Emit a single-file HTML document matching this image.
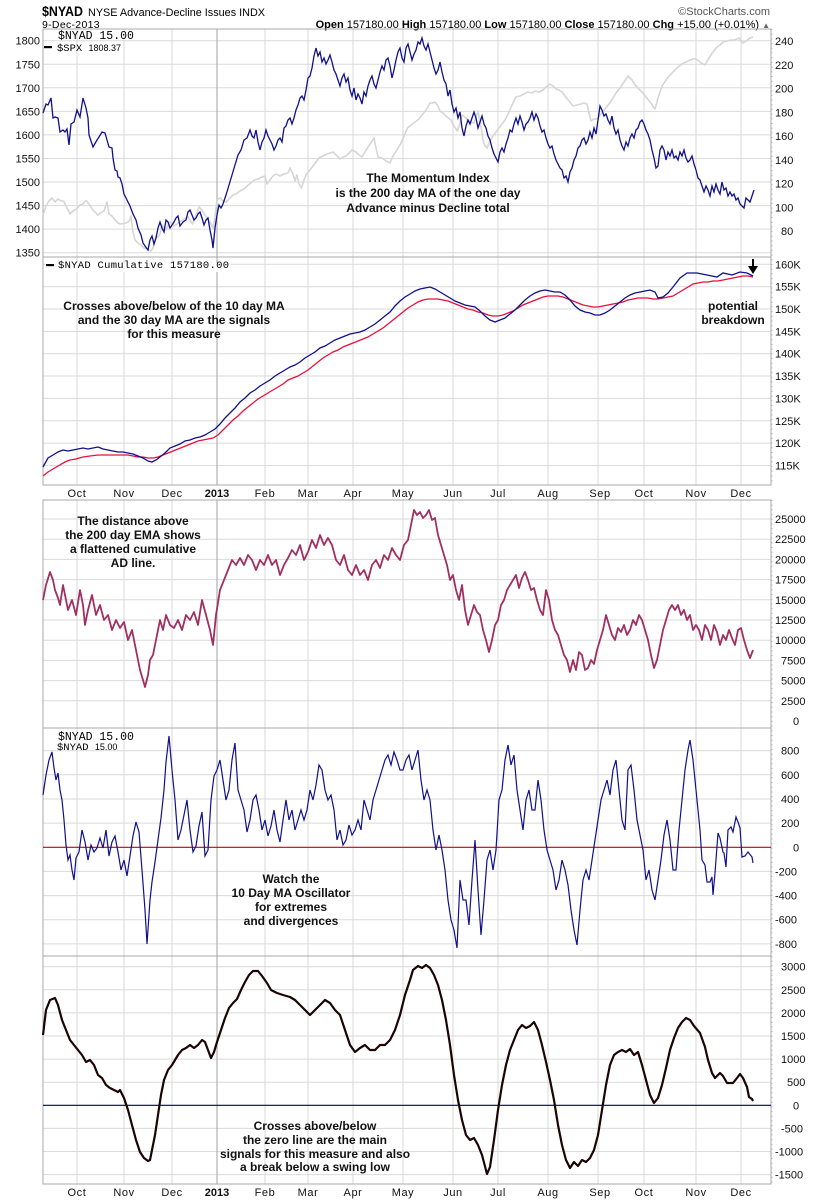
<!DOCTYPE html>
<html><head><meta charset="utf-8"><style>
html,body{margin:0;padding:0;background:#fff;}
svg{display:block;font-family:"Liberation Sans",Arial,sans-serif;}
.ax{font-size:11px;fill:#111;}
.an{font-size:12px;font-weight:bold;fill:#111;text-anchor:middle;}
.mono{font-family:"Liberation Mono",monospace;fill:#000;}
.mo{font-size:11px;fill:#111;text-anchor:middle;letter-spacing:0.6px;}
</style></head><body>
<svg width="820" height="1200" viewBox="0 0 820 1200" xmlns="http://www.w3.org/2000/svg">
<rect width="820" height="1200" fill="#fff"/>

<!-- header -->
<text x="42" y="16" font-size="14" font-weight="bold" fill="#000" textLength="41" lengthAdjust="spacingAndGlyphs">$NYAD</text>
<text x="88" y="16" font-size="11" fill="#000" textLength="177" lengthAdjust="spacingAndGlyphs">NYSE Advance-Decline Issues INDX</text>
<text x="42" y="28" font-size="10.5" fill="#000" letter-spacing="0.3">9-Dec-2013</text>
<text x="770" y="15" font-size="11" fill="#555" text-anchor="end">©StockCharts.com</text>
<text x="770" y="28" font-size="11" fill="#000" text-anchor="end"><tspan font-weight="bold">Open</tspan> 157180.00 <tspan font-weight="bold">High</tspan> 157180.00 <tspan font-weight="bold">Low</tspan> 157180.00 <tspan font-weight="bold">Close</tspan> 157180.00 <tspan font-weight="bold">Chg</tspan> +15.00 (+0.01%) <tspan font-size="8" fill="#666">▲</tspan></text>

<!-- vertical gridlines -->
<g stroke="#dadada" stroke-width="1">
<path d="M77,29V257M124,29V257M172,29V257M265,29V257M308,29V257M353,29V257M403,29V257M453,29V257M498,29V257M548,29V257M598,29V257M644,29V257M696,29V257M741,29V257"/>
<path d="M77,257V485M124,257V485M172,257V485M265,257V485M308,257V485M353,257V485M403,257V485M453,257V485M498,257V485M548,257V485M598,257V485M644,257V485M696,257V485M741,257V485"/>
<path d="M77,500V1184M124,500V1184M172,500V1184M265,500V1184M308,500V1184M353,500V1184M403,500V1184M453,500V1184M498,500V1184M548,500V1184M598,500V1184M644,500V1184M696,500V1184M741,500V1184"/>
<!-- horizontal -->
<path d="M43,40.7H771M43,64.3H771M43,87.8H771M43,111.4H771M43,134.9H771M43,158.5H771M43,182H771M43,205.6H771M43,229.1H771M43,252.7H771"/>
<path d="M43,264.3H771M43,286.7H771M43,309H771M43,331.4H771M43,353.7H771M43,376H771M43,398.4H771M43,420.8H771M43,443.1H771M43,465.5H771"/>
<path d="M43,519H771M43,539.2H771M43,559.4H771M43,579.6H771M43,599.8H771M43,620H771M43,640.2H771M43,660.4H771M43,680.6H771M43,700.8H771"/>
<path d="M43,750.7H771M43,774.8H771M43,799H771M43,823.1H771M43,871.4H771M43,895.6H771M43,919.7H771M43,943.9H771"/>
<path d="M43,966.7H771M43,989.8H771M43,1012.9H771M43,1036H771M43,1059.1H771M43,1082.2H771M43,1128.4H771M43,1151.5H771M43,1174.6H771"/>
</g>
<g stroke="#b0b0b0" stroke-width="1.2">
<path d="M217,29V485M217,500V1184"/>
</g>

<!-- panel borders -->
<g fill="none" stroke="#a8a8a8" stroke-width="1">
<rect x="43" y="29" width="728" height="228"/>
<rect x="43" y="257" width="728" height="228"/>
<rect x="43" y="500" width="728" height="228"/>
<rect x="43" y="728" width="728" height="228"/>
<rect x="43" y="956" width="728" height="228"/>
</g>
<!-- right minor ticks -->
<g stroke="#b8b8b8" stroke-width="1" stroke-dasharray="1,3.7">
<path d="M772,29V485M772,500V1184"/>
</g>

<!-- zero lines -->
<path d="M43,847.3H771" stroke="#c00018" stroke-width="1.2"/>
<path d="M43,1105.3H771" stroke="#000060" stroke-width="1.2"/>

<!-- PANEL 1 -->
<polyline fill="none" stroke="#d6d6d6" stroke-width="1.6" stroke-linejoin="round" points="43,215 46,206 49,201 52,198 55,202 58,199 61,201 63.5,201 66,206 68,210 70,214 73,211 75,210 77,208.5 80,205 83,204 86,200.5 89,204 93,210 95,212 97.5,215 100,213 104,211 107,202 109,214 112,216 115,220 118,223 120,224 124,223.5 126,223 129,221.5 131,216 133,232 135,240 138,243 141,245 144,248 147,249 149,250 151,251 153,248 156,236 158,237 160,234 162,225 164,228 166,230 169.5,222 172,223 174,226 177,224 181,221 184,219 188,217 190,220 192.5,224 195,218 199,207 202,210 205,215 208,219 211,224 213,228 215,217 217,200 220,198 223,201 226,202 230,198 233,195 236,194 240,191 244,189 247,186 251,183 254.5,180 258,179 262,177 265,176 267,184 270,180 273,176 276,174 280,176 284,174 288,173 290,168 293,174 295,181 297,175 299,184 301.5,188 304,180 306,175 308,172 310,170 313,166 316,162 319,158 323,156 327,154 330,153 333,152 336,155 340,159 343,157 346,156 349,153 352,150 356,152 359,155 362,157 366,150 370,144 374,138 376,148 378,157 382,158 386,161 390,163 393,156 397,150 401,143 404,136 407.5,128 411,125 415,122 419,119 422,115 426,110 430,103 433,103 435,102 438,106 440,111 443,113 447,117 451,120 454,126 457.5,131 460,123 462,115 465,117 468,121 471,122 474,123 476,117 478,111 481,126 483,141 485,146 487,148 490,141 493,136 496,132 499,128 502,124 505,120 508,114 512,105 516,97 520,96 524,94 528,92 532,93 535,91 539,92 543,90 547,86 550,84 553,86 556,89 559,90 562,92 565,96 569,101 573,106 577,105 581,104 584,103 587,104 589,113 591,121 594,119 597,119 601,114 605,109 609,104 613,98 616,93 620,88 624,82 628,76 632,80 636,86 639,89 642,92 646,97 650,102 655,109 658,98 662,86 666,80 670,75 674,71 678,67 682,64 686,62 690,60 693,59 696,59 700,62 705,65 709,58 713,52 717,47 720,45 723,42 727,41 731,40 734,40 737,39 739,38 741,41 743,43 746,41 750,38 753,37"/>
<polyline fill="none" stroke="#10108c" stroke-width="1.3" points="43,113 46,104 48,105 51,98 53,118 55,117 58,118 60,132 63,130 65,132 67,129 69,145 71,124 74,122 77,110 80,117 83,98 86,108 88,118 89,135 93,147 97,140 99,137 102,132 105,133 107,140 109,147 112,148 113,158 115,170 117,171 118,177 120,178 122,184 124,194 127,200 130,206 133,214 136,220 138,228 141,235 143,243 145,246 148,250 150,240 152,236 154,244 156,238 158,228 160,222 162,228 164,232 166,220 168,222 170,228 172,225 174,222 176,218 178,216 180,226 183,222 186,220 188,212 190,210 192,215 194,220 196,218 198,214 200,212 202,218 204,225 206,220 208,218 210,230 212,240 213,248 215,228 217,215 219,205 221,208 223,204 226,195 229,185 232,175 235,165 238,155 241,150 244,140 247,138 250,130 252,136 254,138 256,130 258,142 260,150 262,142 264,138 266,130 268,136 270,140 272,144 274,150 276,146 278,140 280,138 282,142 284,128 286,126 288,120 290,118 292,124 294,118 296,110 298,105 300,98 302,96 304,100 306,90 308,78 310,76 312,68 314,56 316,48 318,56 320,52 322,62 324,58 326,64 328,60 330,55 332,62 334,70 336,74 338,80 340,86 342,78 344,74 346,82 348,78 350,90 352,96 354,88 356,100 358,94 360,98 362,104 364,92 366,96 368,86 370,80 372,76 374,84 376,88 378,80 380,72 382,66 384,70 386,60 388,58 390,66 392,78 394,70 396,60 398,52 400,48 402,58 404,62 406,48 408,44 410,52 412,60 414,54 416,50 418,42 420,44 422,38 424,46 426,50 428,44 430,52 432,60 434,68 436,74 438,70 440,62 442,72 444,80 446,84 448,96 450,90 452,104 454,112 456,108 458,118 460,112 462,128 464,136 466,126 468,120 470,124 472,118 474,112 476,118 478,128 480,122 482,116 484,124 486,128 488,136 490,140 492,148 494,154 496,158 498,162 500,152 502,148 504,152 506,144 508,138 510,130 512,132 514,124 516,118 518,124 520,116 522,122 524,130 526,124 528,122 530,118 532,112 534,120 536,114 538,118 540,126 542,132 544,130 546,138 548,144 550,148 552,146 554,154 556,160 558,164 560,168 562,170 564,178 566,176 568,182 570,172 572,168 574,160 576,156 578,148 580,146 582,140 584,138 586,144 588,140 590,132 592,138 594,128 596,134 598,120 600,106 602,110 604,116 606,114 608,120 610,124 612,116 614,128 616,134 618,130 620,140 622,146 624,150 626,142 628,146 630,138 632,134 634,138 636,130 638,128 640,122 642,120 644,124 646,130 648,134 650,140 652,150 654,158 656,168 658,166 660,150 662,146 664,150 666,160 668,152 670,156 672,150 674,158 676,156 678,160 680,152 682,156 684,150 686,158 688,162 690,160 692,156 694,164 696,170 698,178 700,180 702,186 704,192 706,186 708,190 710,196 712,186 714,192 716,184 718,190 720,194 722,182 724,190 726,188 728,196 730,192 732,196 734,194 736,200 738,198 740,204 742,206 744,208 746,198 748,200 750,202 752,196 754,190"/>

<!-- PANEL 2 -->
<polyline fill="none" stroke="#e8103c" stroke-width="1.3" points="43,476 48,472 53,469 58,466 65,462 70,460 76,459 83,457 90,456 98,455 105,455 113,455 120,455 128,455 133,456 138,457 143,457 148,458 153,458 158,457 163,455 168,453 173,451 178,449 183,447 188,445 193,443 198,441 203,440 208,439 213,438 218,435 223,430 228,425 233,420 238,416 243,411 248,407 253,403 258,399 263,396 268,393 273,390 278,387 283,384 288,380 293,378 298,376 303,373 308,370 313,366 318,362 323,358 328,355 333,352 338,350 343,347 348,345 353,343 358,341 363,339 368,337 373,334 378,331 383,328 388,324 393,320 398,316 403,312 408,308 413,305 418,302 423,300 428,299 433,299 438,299 443,300 448,301 453,303 458,305 463,307 468,309 473,310 478,312 483,313 488,315 493,316 498,316 503,315 508,313 513,311 518,308 523,305 528,303 533,301 538,299 543,297 548,296 553,296 558,296 563,297 568,299 573,301 578,303 583,305 588,306 593,307 598,307 603,306 608,305 613,304 618,303 623,302 628,300 633,299 638,298 643,298 648,298 653,299 658,299 663,298 668,297 673,296 678,293 683,290 688,287 693,284 698,283 703,282 708,282 713,281 718,281 723,280 728,279 733,278 738,277 743,276 748,276 753,277"/>
<polyline fill="none" stroke="#10108c" stroke-width="1.3" points="43,467 48,458 53,455 58,452 63,450 68,451 73,450 78,449 83,448 88,449 93,448 98,447 103,449 108,450 113,451 118,452 123,452 128,453 133,454 138,456 143,458 148,461 152,462 156,460 160,457 165,453 170,448 175,446 180,444 185,441 190,440 195,438 200,437 205,435 210,432 215,429 220,424 225,418 230,413 235,408 240,402 245,398 250,393 255,390 260,386 265,383 270,380 275,376 280,373 285,370 290,367 295,365 300,362 305,358 310,355 315,352 320,348 325,346 330,343 335,340 340,338 345,336 350,334 355,333 360,332 365,330 370,327 375,324 380,320 385,316 390,312 395,306 400,301 405,297 410,294 415,291 420,289 425,288 430,287 435,289 440,292 445,295 450,298 455,301 460,303 465,305 470,306 475,307 480,311 485,316 490,320 495,322 500,320 505,318 510,314 515,310 520,305 525,300 530,296 535,293 540,291 545,290 550,291 555,292 560,292 565,295 570,300 575,306 580,310 585,312 590,313 595,315 600,315 605,313 610,310 615,306 620,302 625,298 630,295 635,293 640,292 650,290 655,292 658,298 663,297 668,293 673,287 680,278 687,273 697,273 707,275 717,277 723,273 732,275 740,272 747,273 753,276"/>
<!-- arrow -->
<path d="M753,259V268" stroke="#000" stroke-width="2"/>
<path d="M748,266L758,266L753,274Z" fill="#000"/>

<!-- PANEL 3 -->
<polyline fill="none" stroke="#a03062" stroke-width="1.8" stroke-linejoin="round" points="43,600 46,585 50,572 53,580 55,590 58,598 60,605 63,585 66,600 68,610 72,600 76,615 80,590 83,605 85,625 88,610 92,595 96,615 100,605 104,620 108,615 112,630 116,620 120,628 124,622 128,640 132,630 136,650 140,670 143,680 145,687 148,675 150,660 153,655 156,640 160,620 163,630 166,615 170,625 174,628 178,620 182,630 186,615 190,620 194,612 198,625 202,600 206,615 210,630 213,645 216,615 220,590 224,580 228,570 232,560 236,565 240,558 244,565 248,555 252,560 256,570 260,560 264,565 268,555 272,565 276,560 280,575 284,565 288,558 292,550 296,555 300,545 304,560 308,552 312,540 316,548 320,535 324,545 328,538 332,545 336,560 340,565 344,555 348,570 352,575 356,565 360,575 364,570 368,580 372,565 376,560 380,568 384,555 388,560 392,548 396,555 400,560 404,545 408,540 411,525 414,510 417,515 420,512 423,518 426,515 429,510 432,520 435,518 438,535 441,545 444,555 447,565 450,580 453,575 456,590 459,600 462,585 465,610 468,625 471,615 474,605 477,612 480,615 483,630 486,640 489,652 492,640 495,625 498,620 501,605 504,600 507,590 510,585 513,580 516,575 519,588 522,578 525,572 528,580 531,590 534,588 537,600 540,610 543,615 546,590 549,600 552,620 555,630 558,635 561,645 564,655 567,660 570,672 573,660 576,670 579,652 582,655 585,670 588,668 591,660 594,664 597,650 600,640 603,630 606,615 609,625 612,635 615,640 618,628 621,632 624,625 627,635 630,630 633,620 636,625 639,615 642,620 645,630 648,640 651,655 654,668 657,660 660,645 663,630 666,620 669,610 672,605 675,610 678,605 681,615 684,610 687,620 690,615 693,630 696,625 699,630 702,640 705,625 708,630 711,640 714,625 717,632 720,645 723,635 726,640 729,630 732,638 735,645 738,630 741,628 744,640 747,650 750,658 753,650"/>

<!-- PANEL 4 -->
<polyline fill="none" stroke="#10108c" stroke-width="1.2" points="43,795 46,775 49,760 52,752 54,768 56,780 58,773 60,790 62,800 64,820 66,845 68,860 70,855 72,870 74,880 76,858 79,852 82,830 85,842 88,860 91,845 94,852 97,848 100,838 103,848 106,830 109,856 112,842 115,836 118,852 121,870 124,860 127,876 130,856 133,836 136,822 139,832 142,870 145,910 147,944 150,900 152,882 155,862 158,840 161,818 164,790 166,762 169,736 172,770 175,800 178,840 181,830 184,815 187,800 190,830 193,852 196,846 199,826 202,812 205,856 208,850 211,800 214,776 217,770 220,760 223,780 226,800 229,790 232,760 235,743 238,790 241,800 244,810 247,832 250,820 253,800 256,795 259,810 262,830 265,820 268,836 271,826 274,810 277,830 280,842 283,820 286,800 289,820 292,810 295,830 298,820 301,810 304,820 307,810 310,790 313,800 316,785 319,765 322,770 325,790 328,800 331,795 334,810 337,840 340,830 343,845 346,840 349,825 352,835 355,830 358,820 361,830 364,800 367,810 370,820 373,800 376,790 379,780 382,770 385,760 388,755 391,765 394,752 397,760 400,770 403,770 406,760 409,755 412,770 415,760 418,750 421,780 424,800 427,790 430,800 433,830 436,850 439,835 442,850 445,870 448,900 451,920 454,930 457,948 460,880 463,900 466,900 469,925 472,880 475,840 478,890 481,935 484,900 487,860 490,850 493,870 496,850 499,800 502,790 505,760 508,745 511,765 514,755 517,790 520,810 523,830 526,800 529,790 532,810 535,810 538,780 541,800 544,830 547,850 550,860 553,870 556,890 559,880 562,860 565,870 568,885 571,910 574,930 577,945 580,910 583,880 586,870 589,880 592,860 595,840 598,820 601,800 604,790 607,780 610,795 613,770 616,760 619,790 622,820 625,830 628,770 631,765 634,790 637,820 640,835 643,850 646,880 649,870 652,890 655,900 658,880 661,860 664,835 667,820 670,840 673,870 676,870 679,830 682,800 685,770 688,750 690,740 693,760 696,790 700,830 702,860 705,865 707,882 710,882 712,877 713,895 715,873 718,833 720,838 723,852 724,853 726,867 728,830 731,827 733,832 736,817 738,822 740,828 742,857 745,856 748,852 752,857 753,863"/>

<!-- PANEL 5 -->
<polyline fill="none" stroke="#1a0404" stroke-width="2.2" stroke-linejoin="round" points="43,1035 46,1010 50,1000 55,998 58,1005 62,1020 66,1030 70,1040 74,1045 78,1050 82,1055 86,1062 90,1060 94,1065 98,1075 102,1078 106,1085 110,1088 114,1090 118,1092 120,1090 124,1098 128,1110 132,1125 136,1140 140,1152 144,1158 148,1161 150,1160 152,1150 155,1135 158,1115 161,1095 164,1080 168,1070 172,1065 175,1060 178,1055 182,1050 186,1048 190,1045 194,1048 198,1045 202,1040 205,1042 208,1050 211,1058 214,1052 217,1042 221,1030 225,1018 229,1008 233,1003 237,999 241,990 245,982 249,975 253,971 258,971 262,976 267,983 271,990 277,993 283,995 290,997 295,1000 300,1005 305,1010 310,1015 315,1010 320,1005 325,1000 330,1003 335,1010 340,1015 345,1030 350,1045 355,1052 360,1048 365,1045 370,1050 375,1050 380,1045 385,1045 390,1040 395,1030 400,1015 405,995 410,980 413,970 418,966 422,968 426,965 430,968 434,975 438,985 442,1000 446,1020 450,1045 454,1075 458,1100 462,1120 466,1135 470,1140 474,1138 478,1145 482,1155 487,1174 490,1167 494,1140 498,1110 502,1085 506,1065 510,1050 514,1040 518,1030 522,1025 526,1028 530,1026 534,1022 538,1030 542,1045 546,1062 550,1080 554,1100 558,1125 562,1145 566,1160 570,1168 574,1162 578,1166 582,1160 586,1162 590,1158 594,1150 598,1135 602,1110 606,1085 610,1065 614,1055 618,1052 622,1050 626,1052 630,1049 634,1055 638,1052 642,1065 646,1080 650,1095 654,1103 658,1098 662,1085 666,1068 670,1050 674,1038 678,1028 682,1022 686,1018 690,1020 694,1026 700,1033 705,1047 708,1060 712,1073 715,1078 720,1073 723,1076 727,1083 733,1083 737,1078 740,1074 743,1078 747,1087 749,1097 752,1099 753,1101"/>

<!-- legends -->
<text x="58" y="39" class="mono" font-size="11.5">$NYAD  15.00</text>
<rect x="44" y="46" width="8" height="2.2" fill="#000"/>
<text x="57" y="51" class="mono" font-size="10.5">$SPX <tspan font-family="Liberation Sans" font-size="9">1808.37</tspan></text>
<rect x="45" y="263" width="186" height="9" fill="#fff"/>
<rect x="46" y="264" width="8" height="2.2" fill="#000"/>
<text x="58" y="268" class="mono" font-size="10.5" textLength="171" lengthAdjust="spacing">$NYAD  Cumulative 157180.00</text>
<text x="58" y="740" class="mono" font-size="11.5">$NYAD  15.00</text>
<text x="57" y="750" class="mono" font-size="10.5">$NYAD <tspan font-family="Liberation Sans" font-size="9">15.00</tspan></text>

<!-- annotations -->
<text class="an" x="428" y="182">The Momentum Index</text>
<text class="an" x="428" y="197">is the 200 day MA of the one day</text>
<text class="an" x="428" y="212">Advance minus Decline total</text>

<text class="an" x="174" y="310">Crosses above/below of the 10 day MA</text>
<text class="an" x="174" y="324">and the 30 day MA are the signals</text>
<text class="an" x="174" y="338">for this measure</text>

<text class="an" x="733" y="310">potential</text>
<text class="an" x="733" y="324">breakdown</text>

<text class="an" x="133" y="525">The distance above</text>
<text class="an" x="133" y="539">the 200 day EMA shows</text>
<text class="an" x="133" y="553">a flattened cumulative</text>
<text class="an" x="133" y="567">AD line.</text>

<text class="an" x="291" y="883">Watch the</text>
<text class="an" x="291" y="897">10 Day MA Oscillator</text>
<text class="an" x="291" y="911">for extremes</text>
<text class="an" x="291" y="925">and divergences</text>

<text class="an" x="315" y="1130">Crosses above/below</text>
<text class="an" x="315" y="1144">the zero line are the main</text>
<text class="an" x="315" y="1158">signals for this measure and also</text>
<text class="an" x="315" y="1171">a break below a swing low</text>

<!-- left axis panel 1 -->
<g class="ax" text-anchor="end">
<text x="40" y="44.7">1800</text><text x="40" y="68.3">1750</text><text x="40" y="91.8">1700</text><text x="40" y="115.4">1650</text><text x="40" y="138.9">1600</text><text x="40" y="162.5">1550</text><text x="40" y="186">1500</text><text x="40" y="209.6">1450</text><text x="40" y="233.1">1400</text><text x="40" y="256.7">1350</text>
</g>
<!-- right axes -->
<g class="ax">
<text x="775" y="45">240</text><text x="775" y="68.8">220</text><text x="775" y="92.5">200</text><text x="775" y="116.3">180</text><text x="775" y="140">160</text><text x="775" y="163.8">140</text><text x="775" y="187.5">120</text><text x="775" y="211.3">100</text><text x="781" y="235">80</text>

<text x="775" y="268.3">160K</text><text x="775" y="290.7">155K</text><text x="775" y="313">150K</text><text x="775" y="335.4">145K</text><text x="775" y="357.7">140K</text><text x="775" y="380">135K</text><text x="775" y="402.4">130K</text><text x="775" y="424.8">125K</text><text x="775" y="447.1">120K</text><text x="775" y="469.5">115K</text>

<text x="775" y="523">25000</text><text x="775" y="543.2">22500</text><text x="775" y="563.4">20000</text><text x="775" y="583.6">17500</text><text x="775" y="603.8">15000</text><text x="775" y="624">12500</text><text x="775" y="644.2">10000</text><text x="781" y="664.4">7500</text><text x="781" y="684.6">5000</text><text x="781" y="704.8">2500</text><text x="793" y="725">0</text>

<text x="781" y="754.7">800</text><text x="781" y="778.8">600</text><text x="781" y="803">400</text><text x="781" y="827.1">200</text><text x="793" y="851.3">0</text><text x="775" y="875.4">-200</text><text x="775" y="899.6">-400</text><text x="775" y="923.7">-600</text><text x="775" y="947.9">-800</text>

<text x="781" y="970.7">3000</text><text x="781" y="993.8">2500</text><text x="781" y="1016.9">2000</text><text x="781" y="1040">1500</text><text x="781" y="1063.1">1000</text><text x="787" y="1086.2">500</text><text x="793" y="1109.3">0</text><text x="781" y="1132.4">-500</text><text x="775" y="1155.5">-1000</text><text x="775" y="1178.6">-1500</text>
</g>

<!-- month labels -->
<g class="mo">
<text x="77" y="497">Oct</text><text x="124" y="497">Nov</text><text x="172" y="497">Dec</text><text x="217" y="497" font-weight="bold" letter-spacing="0">2013</text><text x="265" y="497">Feb</text><text x="308" y="497">Mar</text><text x="353" y="497">Apr</text><text x="403" y="497">May</text><text x="453" y="497">Jun</text><text x="498" y="497">Jul</text><text x="548" y="497">Aug</text><text x="600" y="497">Sep</text><text x="644" y="497">Oct</text><text x="696" y="497">Nov</text><text x="741" y="497">Dec</text>

<text x="77" y="1196">Oct</text><text x="124" y="1196">Nov</text><text x="172" y="1196">Dec</text><text x="217" y="1196" font-weight="bold" letter-spacing="0">2013</text><text x="265" y="1196">Feb</text><text x="308" y="1196">Mar</text><text x="353" y="1196">Apr</text><text x="403" y="1196">May</text><text x="453" y="1196">Jun</text><text x="498" y="1196">Jul</text><text x="548" y="1196">Aug</text><text x="600" y="1196">Sep</text><text x="644" y="1196">Oct</text><text x="696" y="1196">Nov</text><text x="741" y="1196">Dec</text>
</g>
</svg>
</body></html>
